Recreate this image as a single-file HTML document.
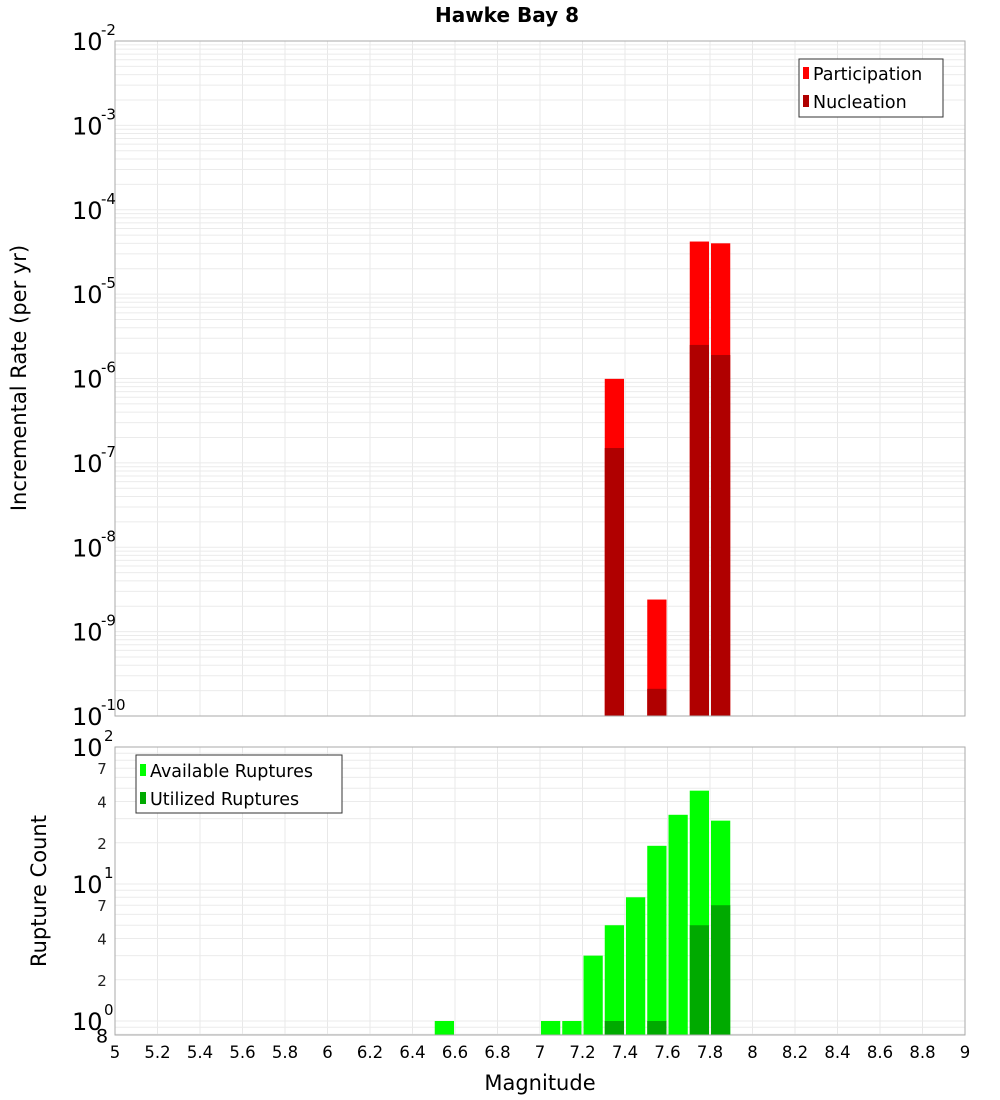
<!DOCTYPE html>
<html><head><meta charset="utf-8">
<style>
html,body{margin:0;padding:0;background:#fff;}
svg{display:block;font-family:"DejaVu Sans","Liberation Sans",sans-serif;}
</style></head>
<body>
<svg id="chart" width="1000" height="1100" viewBox="0 0 1000 1100" xmlns="http://www.w3.org/2000/svg">
<text x="507" y="22" text-anchor="middle" font-size="20" font-weight="bold">Hawke Bay 8</text>
<text transform="translate(26,378) rotate(-90)" text-anchor="middle" font-size="21">Incremental Rate (per yr)</text>
<text transform="translate(46,891) rotate(-90)" text-anchor="middle" font-size="21">Rupture Count</text>
<text x="540" y="1090" text-anchor="middle" font-size="21">Magnitude</text>
<g id="grid"></g>
<g id="bars"></g>
<g id="axes"></g>
<g>
<rect x="799" y="59" width="144" height="58" fill="#fff" stroke="#333" stroke-width="1"/>
<rect x="803" y="67" width="6" height="12" fill="#ff0000"/>
<text x="813" y="80" font-size="17.5">Participation</text>
<rect x="803" y="95" width="6" height="12" fill="#b00000"/>
<text x="813" y="108" font-size="17.5">Nucleation</text>
</g>
<g>
<rect x="136" y="755" width="206" height="58" fill="#fff" stroke="#333" stroke-width="1"/>
<rect x="140" y="764" width="6" height="12" fill="#00ff00"/>
<text x="150" y="777" font-size="17.5">Available Ruptures</text>
<rect x="140" y="792" width="6" height="12" fill="#00aa00"/>
<text x="150" y="805" font-size="17.5">Utilized Ruptures</text>
</g>
</svg>
<script>
// ---- data ----
const rateMags = [7.35, 7.55, 7.75, 7.85];
const participation = [9.9e-7, 2.4e-9, 4.2e-5, 4.0e-5];
const nucleation = [1.5e-7, 2.1e-10, 2.5e-6, 1.9e-6];
const countMags = [6.55, 7.05, 7.15, 7.25, 7.35, 7.45, 7.55, 7.65, 7.75, 7.85];
const available = [1, 1, 1, 3, 5, 8, 19, 32, 48, 29];
const utilized = [0, 0, 0, 0, 1, 0, 1, 0, 5, 7];
const xTicks = ["5","5.2","5.4","5.6","5.8","6","6.2","6.4","6.6","6.8","7","7.2","7.4","7.6","7.8","8","8.2","8.4","8.6","8.8","9"];
const topExps = [-2,-3,-4,-5,-6,-7,-8,-9,-10];
const botExps = [2,1,0];
const botMinor = [7,4,2];

// ---- axes ----
const L=115,R=965, T1=41,B1=716, T2=747,B2=1035;
const NS="http://www.w3.org/2000/svg";
const x = m => L + (m-5)/4*(R-L);
const yTop = v => B1 - (Math.log10(v)+10)*(B1-T1)/8;
const dec2 = 137;
const yBot = v => (T2+2*dec2) - Math.log10(v)*dec2;
const binW = 0.1;

function mk(tag, attrs, parent){const e=document.createElementNS(NS,tag);for(const k in attrs)e.setAttribute(k,attrs[k]);parent.appendChild(e);return e;}
const grid=document.getElementById('grid'), bars=document.getElementById('bars'), axes=document.getElementById('axes');

xTicks.forEach(t=>{const xv=x(+t);
 const g1=mk('line',{x1:xv,x2:xv,y1:T1,y2:B1,stroke:'#e8e8e8','stroke-width':1},grid);
 
 
 const g2=mk('line',{x1:xv,x2:xv,y1:T2,y2:B2,stroke:'#e8e8e8','stroke-width':1},grid);
 
 
});
for(let e=-10;e<-2;e++){for(let k=1;k<10;k++){const yv=yTop(k*Math.pow(10,e));
 const gl=mk('line',{x1:L,x2:R,y1:yv,y2:yv,stroke:'#ebebeb','stroke-width':1},grid);
 
 }}
for(let e=-1;e<2;e++){for(let k=1;k<10;k++){const v=k*Math.pow(10,e);const yv=yBot(v);if(yv>B2||yv<T2)continue;
 const gl=mk('line',{x1:L,x2:R,y1:yv,y2:yv,stroke:'#ebebeb','stroke-width':1},grid);
 
 }}

rateMags.forEach((m,i)=>{
 const x0=x(m-binW/2)+1, w=x(m+binW/2)-x(m-binW/2)-2;
 const p=mk('rect',{x:x0,y:yTop(participation[i]),width:w,height:B1-yTop(participation[i]),fill:'#ff0000'},bars);
 
 
 const n=mk('rect',{x:x0,y:yTop(nucleation[i]),width:w,height:B1-yTop(nucleation[i]),fill:'#b00000'},bars);
 
 
});
countMags.forEach((m,i)=>{
 const x0=x(m-binW/2)+1, w=x(m+binW/2)-x(m-binW/2)-2;
 if(available[i]>0){const a=mk('rect',{x:x0,y:yBot(available[i]),width:w,height:B2-yBot(available[i]),fill:'#00ff00'},bars);
 
 }
 if(utilized[i]>0){const u=mk('rect',{x:x0,y:yBot(utilized[i]),width:w,height:B2-yBot(utilized[i]),fill:'#00aa00'},bars);
 
 }
});

const f1=mk('rect',{x:L,y:T1,width:R-L,height:B1-T1,fill:'none',stroke:'#aaa','stroke-width':1},axes);


const f2=mk('rect',{x:L,y:T2,width:R-L,height:B2-T2,fill:'none',stroke:'#aaa','stroke-width':1},axes);



xTicks.forEach(t=>{const tx=mk('text',{x:x(+t),y:1058,'text-anchor':'middle','font-size':16.5},axes);tx.textContent=t;
 
 });

topExps.forEach(e=>{const yv=yTop(Math.pow(10,e));
 const t=mk('text',{x:72,y:yv+9,'font-size':24},axes);t.textContent='10';
 
 
 const s=mk('text',{x:101,y:yv-6,'font-size':15},axes);s.textContent=String(e);
 
 });
botExps.forEach(e=>{const yv=yBot(Math.pow(10,e));
 const t=mk('text',{x:72,y:yv+9,'font-size':24},axes);t.textContent='10';
 
 
 const s=mk('text',{x:104,y:yv-6,'font-size':15},axes);s.textContent=String(e);
 
 
 if(e>0){botMinor.forEach(k=>{const v=k*Math.pow(10,e-1);const ym=yBot(v);
  const m=mk('text',{x:102,y:ym+6,'font-size':15,'text-anchor':'middle',fill:'#222'},axes);m.textContent=String(k);
  
  });}
});
const eight=mk('text',{x:102,y:yBot(0.8)+8,'font-size':19,'text-anchor':'middle'},axes);eight.textContent='8';


</script>
</body></html>
